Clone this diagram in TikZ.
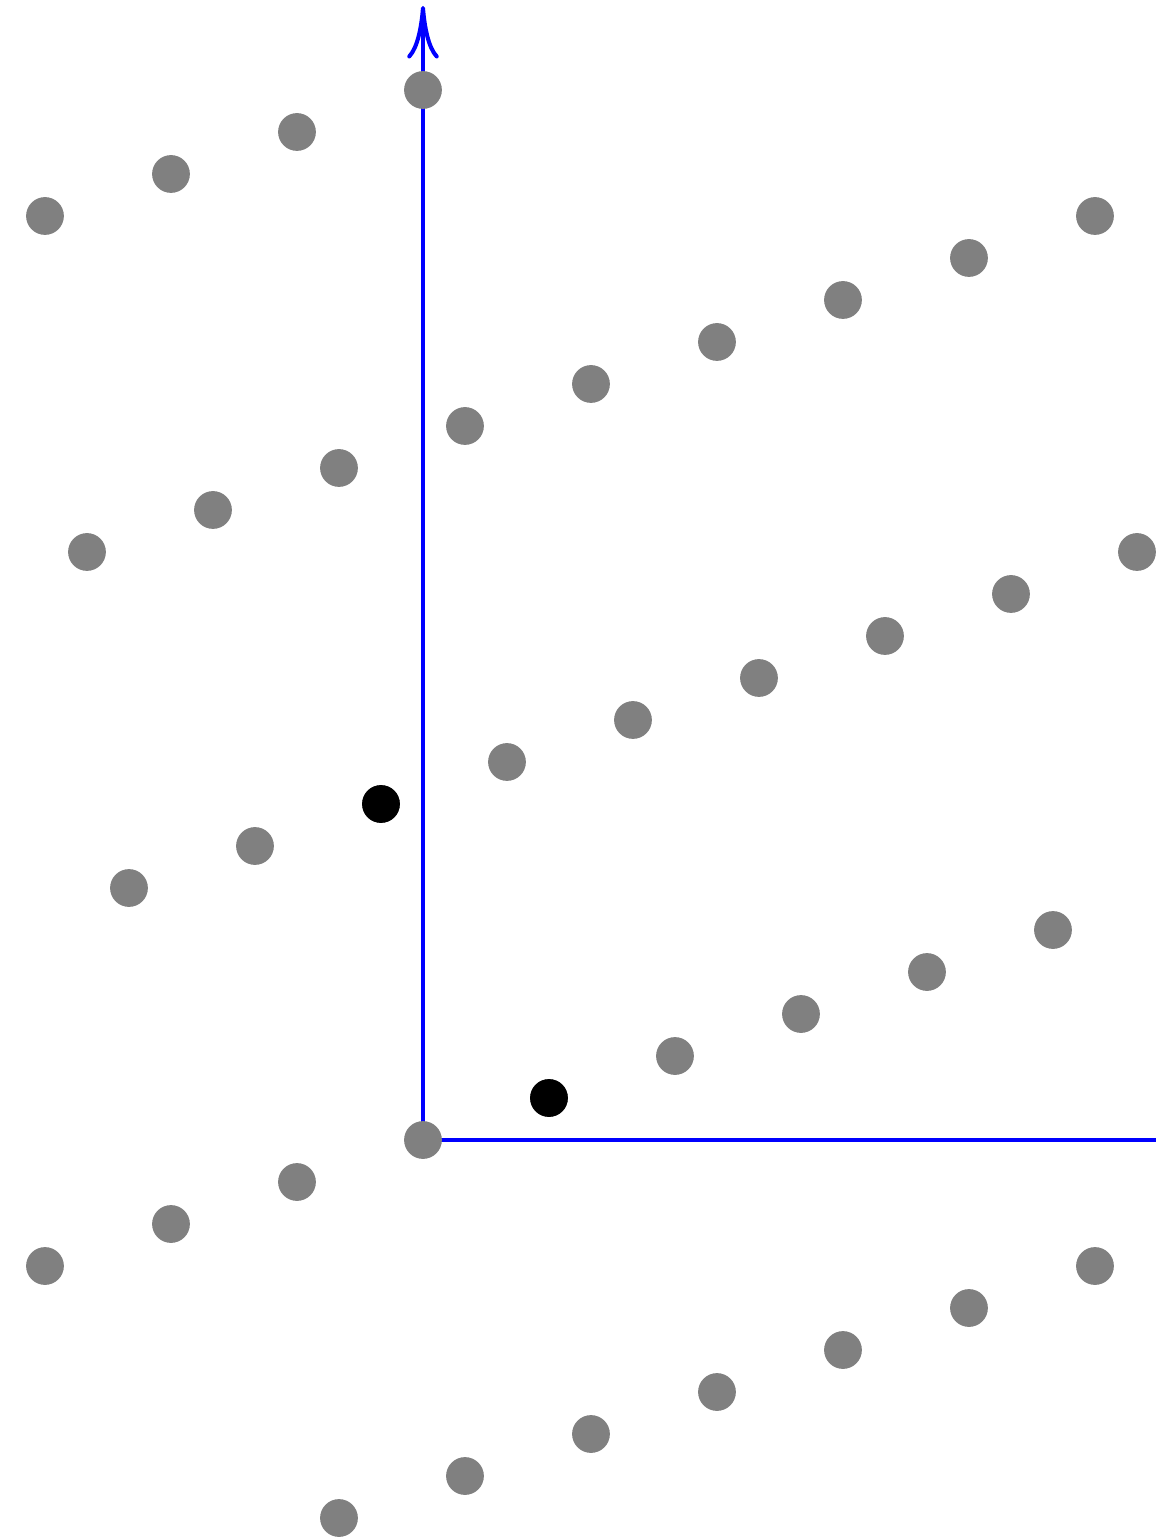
\documentclass[tikz,border=0pt]{standalone}
\usepackage{tikz}
\usetikzlibrary{arrows.meta,calc}

\tikzset{
    axis/.style={blue, line width=1.1pt},
    pt/.style={fill=gray},
    basis/.style={fill=black}
}

\begin{document}
\begin{tikzpicture}[x=0.4cm, y=0.4cm]
    \useasboundingbox (-10.071, -9.476) rectangle (17.452, 27.143);

    % Axes
    \coordinate (O) at (0, 0);
    \coordinate (xend) at (17.452, 0);
    \coordinate (yend) at (0, 27);
    \draw[axis] (O) -- (xend);
    \draw[axis, -{Computer Modern Rightarrow[length=0.5cm, width=0.3cm]}] (O) -- (yend);

    % Lattice points x = 3y mod 25
    \foreach \y in {-9,...,25} {
        \pgfmathtruncatemacro{\xa}{mod(3*\y + 250, 25)}
        \pgfmathtruncatemacro{\xb}{\xa - 25}
        \ifnum\xa<18
            \fill[pt] (\xa, \y) circle (0.45);
        \fi
        \ifnum\xb>-10
            \fill[pt] (\xb, \y) circle (0.45);
        \fi
    }

    % Basis vectors
    \fill[basis] (3, 1) circle (0.45);
    \fill[basis] (-1, 8) circle (0.45);
\end{tikzpicture}
\end{document}
